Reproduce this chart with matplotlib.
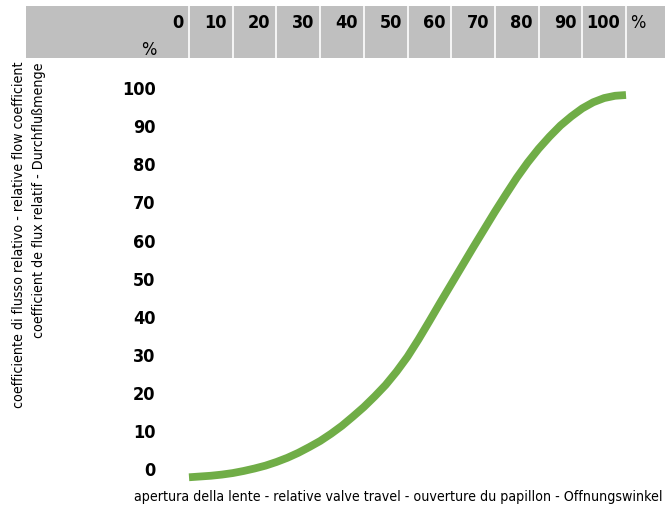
import matplotlib
matplotlib.use('Agg')
import matplotlib.pyplot as plt
from matplotlib import transforms
from matplotlib.patches import Rectangle

plt.rcParams['font.family'] = ['DejaVu Sans']
plt.rcParams['font.stretch'] = 'condensed'

# valve travel (%) and relative flow coefficient (%)
travel = [0, 2.5, 5, 7.5, 10, 12.5, 15, 17.5, 20, 22.5, 25, 27.5, 30, 32.5, 35, 37.5, 40,
          42.5, 45, 47.5, 50, 52.5, 55, 57.5, 60, 62.5, 65, 67.5, 70, 72.5, 75, 77.5, 80,
          82.5, 85, 87.5, 90, 92.5, 95, 97.5, 100]
flow = [-2.3, -2.1, -1.9, -1.6, -1.2, -0.65, 0.0, 0.75, 1.7, 2.8, 4.1, 5.6, 7.2, 9.1, 11.2,
        13.6, 16.1, 18.9, 21.9, 25.4, 29.3, 33.8, 38.6, 43.5, 48.3, 53.1, 57.9, 62.6, 67.3,
        71.8, 76.2, 80.2, 83.8, 87.0, 89.9, 92.3, 94.4, 96.0, 97.1, 97.7, 97.9]

top_ticks = list(range(0, 101, 10))
y_ticks = list(range(0, 101, 10))

ylabel_1 = 'coefficiente di flusso relativo - relative flow coefficient'
ylabel_2 = 'coefficient de flux relatif - Durchflußmenge'
xlabel = 'apertura della lente - relative valve travel - ouverture du papillon - Offnungswinkel'

W, H = 665, 506
fig = plt.figure(figsize=(W / 100, H / 100), dpi=100)

def fx(px):
    return px / W

def fy(py):
    return 1 - py / H

# axes: x 0 at px 189, 100 at px 626; y 0 at py 469.5, 100 at py 88
ax = fig.add_axes([fx(189), fy(469.5), fx(626) - fx(189), fy(88) - fy(469.5)])
ax.set_xlim(0, 100)
ax.set_ylim(0, 100)
for s in ax.spines.values():
    s.set_visible(False)
ax.set_xticks([])
ax.set_yticks(y_ticks)
ax.set_yticklabels([str(v) for v in y_ticks], fontsize=13, fontweight='bold')
ax.tick_params(axis='y', length=0, pad=24)

ax.plot(travel, flow, color='#70AD47', lw=5.6, solid_capstyle='butt',
        solid_joinstyle='round', clip_on=False)

# grey header band with column labels
fig.patches.append(Rectangle((fx(26), fy(59)), 1 - fx(26), fy(7) - fy(59),
                             transform=fig.transFigure, facecolor='#BFBFBF',
                             edgecolor='none', zorder=0))
tr = transforms.blended_transform_factory(ax.transData, fig.transFigure)
for t in top_ticks:
    fig.add_artist(plt.Line2D([t, t], [fy(59), fy(7)], transform=tr, color='white', lw=1.2))
    fig.text(t - 1.3, fy(23), str(t), transform=tr, ha='right', va='center',
             fontsize=13, fontweight='bold')
fig.text(101.0, fy(23), '%', transform=tr, ha='left', va='center', fontsize=13)
fig.text(fx(157), fy(50), '%', ha='right', va='center', fontsize=13)

fig.text(fx(19), fy(62), ylabel_1, rotation=90, ha='center', va='top', fontsize=10.2)
fig.text(fx(39), fy(62), ylabel_2, rotation=90, ha='center', va='top', fontsize=10.2)
fig.text(fx(663), fy(497), xlabel, ha='right', va='center', fontsize=10.2)

fig.savefig('out.png', dpi=100)
